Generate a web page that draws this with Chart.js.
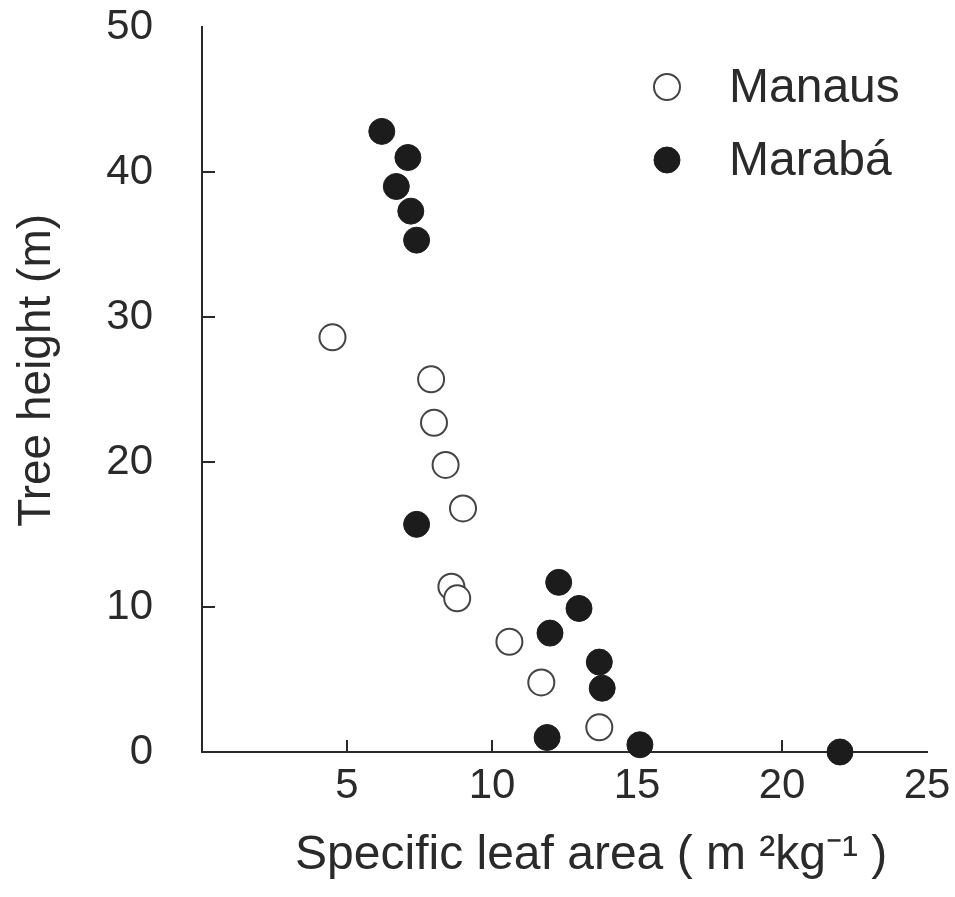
<!DOCTYPE html>
<html lang="en">
<head>
<meta charset="UTF-8">
<title>Tree height vs specific leaf area</title>
<style>
  body { margin: 0; background: #fff; }
  canvas { display: block; }
</style>
</head>
<body>
<canvas id="slaChart" width="955" height="897"></canvas>

<script src="https://cdn.jsdelivr.net/npm/chart.js"></script>
<script>
// values
const manausSLA    = [4.5, 7.9, 8.0, 8.4, 9.0, 8.6, 8.8, 10.6, 11.7, 13.7];
const manausHeight = [28.6, 25.7, 22.7, 19.8, 16.8, 11.4, 10.6, 7.6, 4.8, 1.7];
const marabaSLA    = [6.2, 7.1, 6.7, 7.2, 7.4, 7.4, 12.3, 13.0, 12.0, 13.7, 13.8, 11.9, 15.1, 22.0];
const marabaHeight = [42.8, 41.0, 39.0, 37.3, 35.3, 15.7, 11.7, 9.9, 8.2, 6.2, 4.4, 1.0, 0.5, 0.0];
const xTickValues = [5, 10, 15, 20, 25];
const yTickValues = [0, 10, 20, 30, 40, 50];

const FONT = '"Liberation Sans", Arial, Helvetica, sans-serif';
const INK = '#2a2a2a';

function toPoints(xs, ys) {
    return xs.map((x, i) => ({ x: x, y: ys[i] }));
}

// short tick marks pointing into the plot, like the printed figure
const innerTicks = {
    id: 'innerTicks',
    beforeDatasetsDraw(chart) {
        const { ctx, chartArea, scales } = chart;
        ctx.save();
        ctx.strokeStyle = INK;
        ctx.lineWidth = 2;
        ctx.beginPath();
        xTickValues.slice(0, -1).forEach(v => {
            const px = scales.x.getPixelForValue(v);
            ctx.moveTo(px, chartArea.bottom);
            ctx.lineTo(px, chartArea.bottom - 12);
        });
        yTickValues.slice(1, -1).forEach(v => {
            const py = scales.y.getPixelForValue(v);
            ctx.moveTo(chartArea.left, py);
            ctx.lineTo(chartArea.left + 13, py);
        });
        ctx.stroke();
        ctx.restore();
    }
};

// legend drawn inside the plot, top right
const insideLegend = {
    id: 'insideLegend',
    afterDraw(chart) {
        const { ctx } = chart;
        ctx.save();
        ctx.font = '48px ' + FONT;
        ctx.textBaseline = 'middle';
        chart.data.datasets.forEach((ds, i) => {
            const cy = 87 + i * 73;
            ctx.beginPath();
            ctx.arc(667, cy, 13, 0, Math.PI * 2);
            ctx.fillStyle = ds.backgroundColor;
            ctx.fill();
            ctx.lineWidth = ds.borderWidth;
            ctx.strokeStyle = ds.borderColor;
            ctx.stroke();
            ctx.fillStyle = INK;
            ctx.fillText(ds.label, 729, cy + 2);
        });
        ctx.restore();
    }
};

new Chart(document.getElementById('slaChart'), {
    type: 'scatter',
    data: {
        datasets: [
            {
                label: 'Manaus',
                data: toPoints(manausSLA, manausHeight),
                backgroundColor: '#ffffff',
                borderColor: '#444444',
                borderWidth: 2,
                pointRadius: 13,
                pointHoverRadius: 13,
                clip: false
            },
            {
                label: 'Marabá',
                data: toPoints(marabaSLA, marabaHeight),
                backgroundColor: '#1c1c1c',
                borderColor: '#1c1c1c',
                borderWidth: 1,
                pointRadius: 13,
                pointHoverRadius: 13,
                clip: false
            }
        ]
    },
    options: {
        responsive: false,
        animation: false,
        layout: { padding: { top: 27, right: 28, left: 0, bottom: 0 } },
        plugins: {
            legend: { display: false },
            tooltip: { enabled: false }
        },
        scales: {
            x: {
                type: 'linear',
                min: 0,
                max: 25,
                afterFit(scale) {
                    scale.height = 145;
                    scale.paddingLeft = 0;
                    scale.paddingRight = 0;
                },
                afterBuildTicks(scale) { scale.ticks = xTickValues.map(v => ({ value: v })); },
                grid: { display: false, drawTicks: false },
                border: { display: true, color: INK, width: 2 },
                ticks: {
                    color: INK,
                    padding: 9,
                    font: { family: FONT, size: 42 }
                },
                title: {
                    display: true,
                    text: '    Specific leaf area ( m ²kg⁻¹ )',
                    color: INK,
                    padding: { top: 12, bottom: 12 },
                    font: { family: FONT, size: 48 }
                }
            },
            y: {
                type: 'linear',
                min: 0,
                max: 50,
                afterFit(scale) {
                    scale.width = 202;
                    scale.paddingTop = 0;
                    scale.paddingBottom = 0;
                },
                afterBuildTicks(scale) { scale.ticks = yTickValues.map(v => ({ value: v })); },
                grid: { display: false, drawTicks: false },
                border: { display: true, color: INK, width: 2 },
                ticks: {
                    color: INK,
                    padding: 49,
                    font: { family: FONT, size: 42 }
                },
                title: {
                    display: true,
                    text: '   Tree height (m)',
                    color: INK,
                    padding: { top: 10, bottom: 10 },
                    font: { family: FONT, size: 46 }
                }
            }
        }
    },
    plugins: [innerTicks, insideLegend]
});
</script>
</body>
</html>
